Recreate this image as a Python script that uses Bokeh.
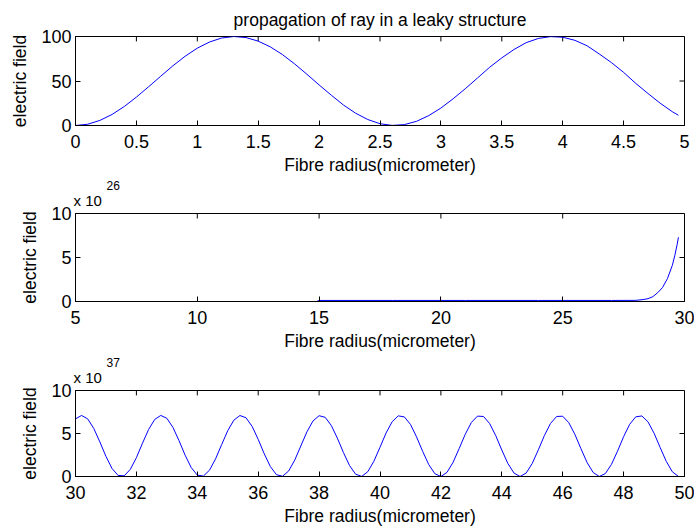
from bokeh.plotting import figure
from bokeh.layouts import column
from bokeh.models import Range1d, FixedTicker, Title
from bokeh.embed import file_html
from bokeh.resources import INLINE

FONT = "Liberation Sans"

# ---- data ----
title_text = "propagation of ray in a leaky structure"
x_label = "Fibre radius(micrometer)"
y_label = "electric field"

# panel 1 : 0 .. 5 micrometer
x1 = [round(0.1 * i, 1) for i in range(50)] + [4.95]
y1 = [0, 1.4, 5.7, 12.4, 21.3, 31.9, 43.5, 55.4, 67.1, 77.8,
      86.9, 93.8, 98.3, 100, 98.8, 94.8, 88.3, 79.6, 69.1, 57.6,
      45.6, 34.1, 23.0, 13.8, 6.7, 2.0, 0.1, 1.0, 4.7, 11.1,
      19.6, 30.0, 41.3, 53.3, 65.4, 76.0, 85.4, 93.1, 97.8, 99.9,
      99.2, 95.7, 89.6, 80.4, 70.7, 59.7, 47.3, 36.0, 25.1, 15.5,
      11.5]

# panel 2 : 5 .. 30 micrometer (values in units of 1e26)
x2 = [5, 8, 11, 14.9, 15, 18, 21, 24, 27, 28, 28.3, 28.5, 28.7, 28.9,
      29.1, 29.3, 29.5, 29.6, 29.7, 29.75]
y2 = [0, 0, 0, 0, 0.12, 0.12, 0.12, 0.12, 0.12, 0.13, 0.22, 0.32, 0.55,
      1.0, 1.6, 2.6, 4.1, 5.2, 6.5, 7.3]

# panel 3 : 30 .. 50 micrometer (values in units of 1e37)
x3 = [round(30 + 0.2 * i, 1) for i in range(100)]
y3 = [6.70, 7.10, 6.70, 5.59, 4.02, 2.34, 0.93, 0.12, 0.08, 0.83,
      2.19, 3.87, 5.46, 6.63, 7.10, 6.77, 5.71, 4.17, 2.48, 1.04,
      0.16, 0.05, 0.73, 2.05, 3.71, 5.33, 6.55, 7.09, 6.83, 5.83,
      4.32, 2.63, 1.15, 0.21, 0.03, 0.64, 1.91, 3.55, 5.19, 6.46,
      7.07, 6.88, 5.94, 4.46, 2.78, 1.27, 0.27, 0.01, 0.56, 1.78,
      3.40, 5.06, 6.37, 7.05, 6.93, 6.06, 4.61, 2.93, 1.39, 0.33,
      0.00, 0.48, 1.65, 3.25, 4.91, 6.28, 7.02, 6.98, 6.16, 4.76,
      3.08, 1.51, 0.40, 0.00, 0.40, 1.52, 3.10, 4.77, 6.17, 6.98,
      7.01, 6.26, 4.90, 3.23, 1.63, 0.47, 0.00, 0.34, 1.40, 2.94,
      4.63, 6.07, 6.94, 7.04, 6.36, 5.04, 3.38, 1.77, 0.55, 0.01]

xticks1 = [0, 0.5, 1, 1.5, 2, 2.5, 3, 3.5, 4, 4.5, 5]
yticks1 = [0, 50, 100]
xticks2 = [5, 10, 15, 20, 25, 30]
yticks2 = [0, 5, 10]
xticks3 = [30, 32, 34, 36, 38, 40, 42, 44, 46, 48, 50]
yticks3 = [0, 5, 10]
exp2 = "26"
exp3 = "37"

FRAME_W = 609
TICK = 5


def style_axis(ax, ticks):
    ax.ticker = FixedTicker(ticks=ticks)
    ax.axis_line_color = "black"
    ax.major_tick_line_color = "black"
    ax.major_tick_in = TICK
    ax.major_tick_out = 0
    ax.minor_tick_line_color = None
    ax.major_label_text_font = FONT
    ax.major_label_text_color = "black"
    ax.major_label_text_font_size = "18px"
    ax.axis_label_text_font = FONT
    ax.axis_label_text_font_size = "17.5px"
    ax.axis_label_text_font_style = "normal"
    ax.axis_label_text_color = "black"


def make_fig(h, top, bottom, fh, xr, yr, xt, yt, xs, ys):
    p = figure(width=694, height=h, x_range=Range1d(*xr), y_range=Range1d(*yr),
               output_backend="svg", toolbar_location=None,
               min_border_left=75, min_border_right=10,
               min_border_top=top, min_border_bottom=bottom)
    p.grid.visible = False
    p.outline_line_color = "black"
    p.outline_line_width = 1
    p.background_fill_color = "white"
    p.border_fill_color = "white"
    style_axis(p.xaxis[0], xt)
    style_axis(p.yaxis[0], yt)
    p.xaxis[0].axis_label = x_label
    p.yaxis[0].axis_label = y_label
    p.xaxis[0].major_label_standoff = 9
    p.xaxis[0].axis_label_standoff = 4
    p.yaxis[0].major_label_standoff = 4
    p.yaxis[0].axis_label_standoff = 8
    # mirrored tick marks on the top and right edges of the box
    dy = (yr[1] - yr[0]) * TICK / fh
    dx = (xr[1] - xr[0]) * TICK / FRAME_W
    p.segment(x0=xt, y0=[yr[1]] * len(xt), x1=xt, y1=[yr[1] - dy] * len(xt),
              line_color="black", line_width=1)
    p.segment(x0=[xr[1]] * len(yt), y0=yt, x1=[xr[1] - dx] * len(yt), y1=yt,
              line_color="black", line_width=1)
    p.line(xs, ys, line_color="#0000ff", line_width=1)
    return p


p1 = make_fig(178, 35, 53, 90, (0, 5), (0, 100), xticks1, yticks1, x1, y1)
p1.title.text = title_text
p1.title.align = "center"
p1.title.text_font = FONT
p1.title.text_font_size = "17.5px"
p1.title.text_font_style = "normal"
p1.title.text_color = "black"
p1.title.standoff = 14

p2 = make_fig(176, 35, 53, 88, (5, 30), (0, 10), xticks2, yticks2, x2, y2)
p3 = make_fig(174, 36, 51, 87, (30, 50), (0, 10), xticks3, yticks3, x3, y3)

for p, e in ((p2, exp2), (p3, exp3)):
    p.add_layout(Title(text="x 10", align="left", offset=-2, standoff=9,
                       text_font=FONT, text_font_size="15px",
                       text_font_style="normal", text_color="black"), "above")
    p.add_layout(Title(text=e, align="left", offset=31, standoff=-8,
                       text_font=FONT, text_font_size="12px",
                       text_font_style="normal", text_color="black"), "above")

layout = column(p1, p2, p3, spacing=0)
open("out.html", "w").write(file_html(layout, INLINE))
